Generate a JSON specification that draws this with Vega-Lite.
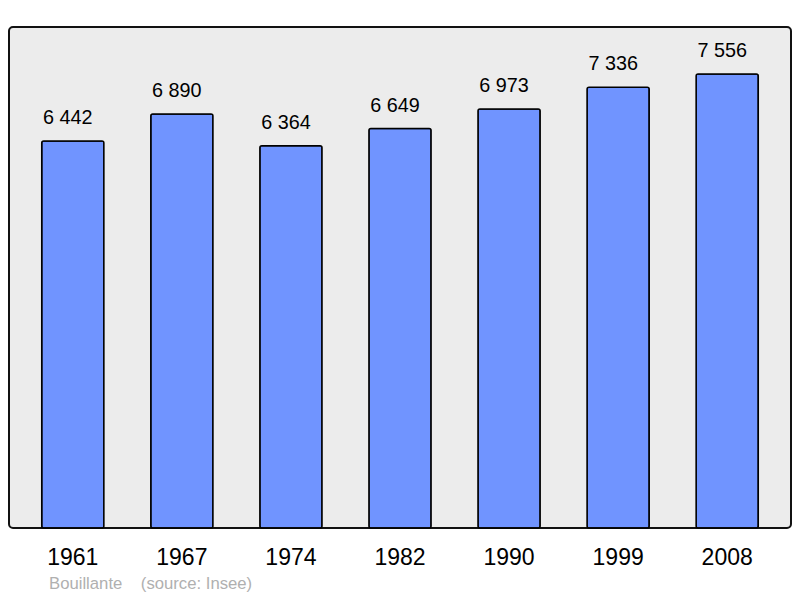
{
  "$schema": "https://vega.github.io/schema/vega-lite/v6.json",
  "width": 782,
  "height": 501,
  "autosize": {"type": "none"},
  "padding": {"left": 9, "top": 27, "right": 9, "bottom": 70},
  "background": "white",
  "config": {
    "font": "Liberation Sans",
    "view": {"stroke": "#111111", "strokeWidth": 2, "fill": "#ececec", "cornerRadius": 4},
    "locale": {"number": {"decimal": ",", "thousands": " ", "grouping": [3], "currency": ["", ""]}}
  },
  "title": {
    "text": "Bouillante\u00a0\u00a0\u00a0\u00a0(source: Insee)",
    "orient": "bottom",
    "anchor": "start",
    "dx": 40,
    "offset": 7,
    "fontSize": 16.7,
    "fontWeight": "normal",
    "color": "#b0b0b0",
    "font": "Liberation Sans"
  },
  "data": {
    "values": [
      {"year": "1961", "population": 6442},
      {"year": "1967", "population": 6890},
      {"year": "1974", "population": 6364},
      {"year": "1982", "population": 6649},
      {"year": "1990", "population": 6973},
      {"year": "1999", "population": 7336},
      {"year": "2008", "population": 7556}
    ]
  },
  "encoding": {
    "x": {
      "field": "year",
      "type": "nominal",
      "sort": null,
      "scale": {"paddingInner": 0.43, "paddingOuter": 0.3},
      "axis": {
        "title": null,
        "domain": false,
        "ticks": false,
        "labelAngle": 0,
        "labelFontSize": 23,
        "labelColor": "#000000",
        "labelPadding": 18,
        "labelFont": "Liberation Sans"
      }
    },
    "y": {
      "field": "population",
      "type": "quantitative",
      "scale": {"domain": [0, 8340], "nice": false},
      "axis": null
    }
  },
  "layer": [
    {
      "mark": {"type": "bar", "fill": "#7094ff", "stroke": "#000000", "strokeWidth": 1.5, "cornerRadius": 2}
    },
    {
      "mark": {"type": "text", "baseline": "alphabetic", "dy": -17, "dx": -5, "fontSize": 19.8, "color": "#000000", "font": "Liberation Sans"},
      "encoding": {"text": {"field": "population", "type": "quantitative", "format": ",d"}}
    }
  ]
}
